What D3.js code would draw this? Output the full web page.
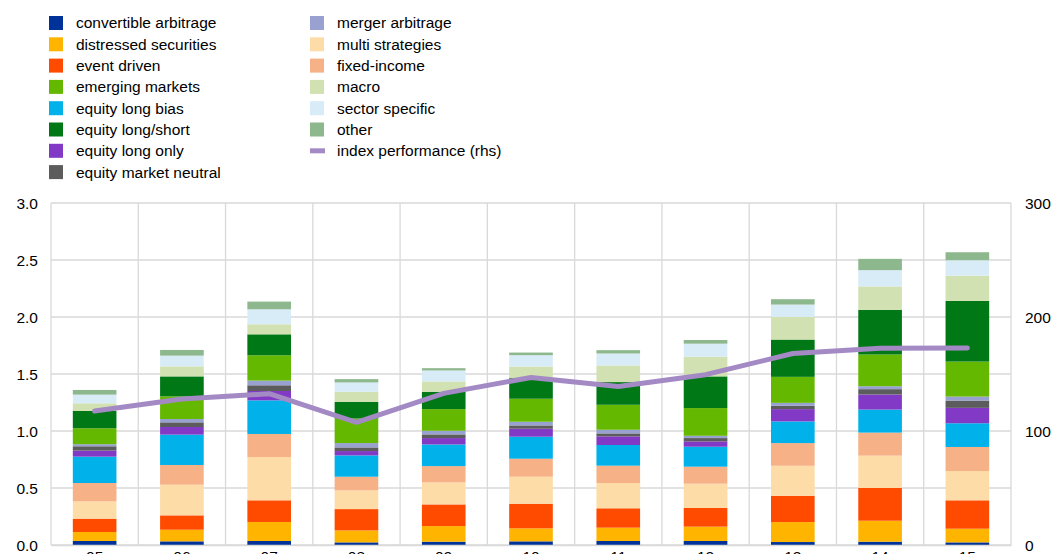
<!DOCTYPE html>
<html>
<head>
<meta charset="utf-8">
<script src="https://cdn.jsdelivr.net/npm/d3@7"></script>
<style>
  body { margin: 0; background: #fff; }
  svg text { font-family: "Liberation Sans", Arial, sans-serif; fill: #000; }
</style>
</head>
<body>
<svg id="canvas" width="1051" height="554"></svg>
<script>
(function () {
    // years on the x axis
    var years = ["05", "06", "07", "08", "09", "10", "11", "12", "13", "14", "15"];

    // series, bottom of the stack first
    var seriesNames = ["convertible arbitrage", "distressed securities", "event driven", "multi strategies",
        "fixed-income", "equity long bias", "equity long only", "equity market neutral", "merger arbitrage",
        "emerging markets", "equity long/short", "macro", "sector specific", "other"];

    var convertibleArbitrage = [0.035, 0.032, 0.035, 0.023, 0.029, 0.032, 0.035, 0.035, 0.026, 0.029, 0.023];
    var distressedSecurities = [0.079, 0.102, 0.167, 0.105, 0.137, 0.114, 0.117, 0.126, 0.175, 0.184, 0.120];
    var eventDriven          = [0.117, 0.126, 0.190, 0.187, 0.190, 0.216, 0.170, 0.164, 0.231, 0.287, 0.249];
    var multiStrategies      = [0.152, 0.269, 0.380, 0.164, 0.193, 0.237, 0.222, 0.213, 0.263, 0.284, 0.257];
    var fixedIncome          = [0.161, 0.173, 0.202, 0.120, 0.143, 0.158, 0.152, 0.149, 0.199, 0.202, 0.211];
    var equityLongBias       = [0.231, 0.266, 0.295, 0.187, 0.190, 0.193, 0.181, 0.175, 0.190, 0.202, 0.208];
    var equityLongOnly       = [0.053, 0.067, 0.082, 0.038, 0.056, 0.070, 0.076, 0.047, 0.108, 0.132, 0.135];
    var equityMarketNeutral  = [0.038, 0.041, 0.050, 0.032, 0.032, 0.029, 0.026, 0.029, 0.029, 0.047, 0.064];
    var mergerArbitrage      = [0.018, 0.029, 0.041, 0.038, 0.032, 0.032, 0.032, 0.020, 0.026, 0.026, 0.035];
    var emergingMarkets      = [0.140, 0.199, 0.222, 0.216, 0.190, 0.202, 0.219, 0.243, 0.228, 0.278, 0.307];
    var equityLongShort      = [0.152, 0.175, 0.184, 0.146, 0.152, 0.181, 0.199, 0.278, 0.327, 0.392, 0.532];
    var macro                = [0.067, 0.088, 0.088, 0.088, 0.091, 0.102, 0.146, 0.173, 0.199, 0.205, 0.222];
    var sectorSpecific       = [0.076, 0.094, 0.132, 0.082, 0.096, 0.099, 0.105, 0.114, 0.108, 0.143, 0.135];
    var other                = [0.041, 0.050, 0.067, 0.029, 0.020, 0.023, 0.029, 0.032, 0.047, 0.099, 0.070];

    // index performance (rhs)
    var indexPerformance = [117.5, 128, 132.7, 107.6, 133, 147, 139, 149.4, 168, 172.5, 172.8];

    var leftTicks = [0, 0.5, 1.0, 1.5, 2.0, 2.5, 3.0];
    var rightTicks = [0, 100, 200, 300];

    var seriesValues = [convertibleArbitrage, distressedSecurities, eventDriven, multiStrategies,
        fixedIncome, equityLongBias, equityLongOnly, equityMarketNeutral, mergerArbitrage,
        emergingMarkets, equityLongShort, macro, sectorSpecific, other];

    var colors = {
        "convertible arbitrage": "#003299",
        "distressed securities": "#ffb400",
        "event driven": "#ff4b00",
        "emerging markets": "#65b800",
        "equity long bias": "#00b1ea",
        "equity long/short": "#007816",
        "equity long only": "#8139c6",
        "equity market neutral": "#5c5c5c",
        "merger arbitrage": "#98a1d0",
        "multi strategies": "#fddca8",
        "fixed-income": "#f6b186",
        "macro": "#d1e1b1",
        "sector specific": "#d8ecf7",
        "other": "#8db78c"
    };
    var lineColor = "#a38ac4";

    // table for the stack
    var table = years.map(function (y, i) {
        var row = { year: y };
        seriesNames.forEach(function (s, j) { row[s] = seriesValues[j][i]; });
        return row;
    });

    var left = 51, right = 1011, top = 203, bottom = 545;

    const svg = d3.select("#canvas");

    var x = d3.scaleBand()
        .domain(years)
        .range([left, right])
        .paddingInner(0.5)
        .paddingOuter(0.25);

    var xGrid = d3.scaleBand().domain(years).range([left, right]);

    var y = d3.scaleLinear().domain([0, 3]).range([bottom, top]);
    var y2 = d3.scaleLinear().domain([0, 300]).range([bottom, top]);

    // grid
    var grid = svg.append("g");
    grid.selectAll(".h")
        .data(leftTicks)
        .join("line")
        .attr("x1", left).attr("x2", right)
        .attr("y1", d => y(d)).attr("y2", d => y(d))
        .attr("stroke", "#d9d9d9").attr("stroke-width", 1.3);
    grid.selectAll(".v")
        .data(years.map(d => xGrid(d)).concat([right]))
        .join("line")
        .attr("x1", d => d).attr("x2", d => d)
        .attr("y1", top).attr("y2", bottom)
        .attr("stroke", "#d9d9d9").attr("stroke-width", 1.3);

    // stacked bars
    var stack = d3.stack().keys(seriesNames)(table);
    svg.append("g")
        .selectAll("g")
        .data(stack)
        .join("g")
        .attr("fill", d => colors[d.key])
        .selectAll("rect")
        .data(d => d)
        .join("rect")
        .attr("x", d => x(d.data.year))
        .attr("y", d => y(d[1]))
        .attr("width", x.bandwidth())
        .attr("height", d => y(d[0]) - y(d[1]));

    // index line
    var line = d3.line()
        .x((d, i) => x(years[i]) + x.bandwidth() / 2)
        .y(d => y2(d));
    svg.append("path")
        .datum(indexPerformance)
        .attr("d", line)
        .attr("fill", "none")
        .attr("stroke", lineColor)
        .attr("stroke-width", 5)
        .attr("stroke-linejoin", "round")
        .attr("stroke-linecap", "round");

    // axes
    svg.append("g")
        .attr("transform", "translate(" + (left - 13) + ",0)")
        .call(d3.axisLeft(y).tickValues(leftTicks).tickFormat(d3.format(".1f")).tickSize(0).tickPadding(0))
        .call(g => g.select(".domain").remove())
        .selectAll("text").style("font-size", "15.5px").attr("dy", "0.36em");

    svg.append("g")
        .attr("transform", "translate(" + (right + 14) + ",0)")
        .call(d3.axisRight(y2).tickValues(rightTicks).tickSize(0).tickPadding(0))
        .call(g => g.select(".domain").remove())
        .selectAll("text").style("font-size", "15.5px").attr("dy", "0.36em");

    svg.append("g")
        .attr("transform", "translate(0," + bottom + ")")
        .call(d3.axisBottom(x).tickSize(0).tickPadding(6))
        .call(g => g.select(".domain").attr("stroke", "#d9d9d9").attr("stroke-width", 1.3))
        .selectAll("text").style("font-size", "15.5px");

    // legend
    var legendItems = ["convertible arbitrage", "distressed securities", "event driven", "emerging markets",
        "equity long bias", "equity long/short", "equity long only", "equity market neutral",
        "merger arbitrage", "multi strategies", "fixed-income", "macro", "sector specific", "other",
        "index performance (rhs)"];

    var legend = svg.append("g");
    legendItems.forEach(function (name, i) {
        var col = i < 8 ? 0 : 1;
        var row = i < 8 ? i : i - 8;
        var lx = col === 0 ? 49 : 310;
        var ly = 23 + row * 21.3;
        var g = legend.append("g").attr("transform", "translate(" + lx + "," + ly + ")");
        if (colors[name]) {
            g.append("rect").attr("x", 0).attr("y", -7).attr("width", 14).attr("height", 14)
                .attr("fill", colors[name]);
        } else {
            g.append("rect").attr("x", 0).attr("y", -2.5).attr("width", 15).attr("height", 5)
                .attr("fill", lineColor);
        }
        g.append("text").attr("x", 27).attr("y", 0).attr("dy", "0.35em")
            .style("font-size", "15.5px").text(name);
    });
})();
</script>
</body>
</html>
